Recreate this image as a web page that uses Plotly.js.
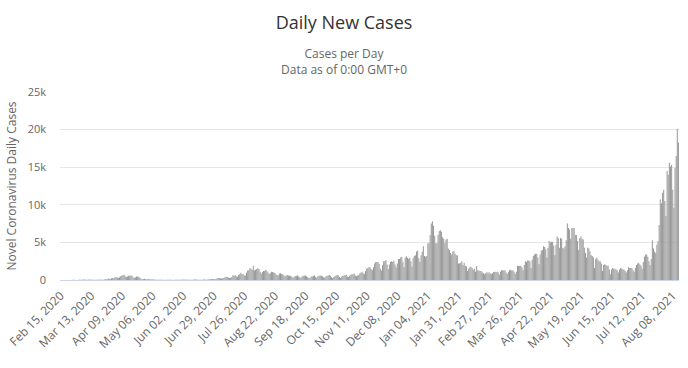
<!DOCTYPE html>
<html>
<head>
<meta charset="utf-8">
<script src="https://cdn.plot.ly/plotly-3.0.1.min.js"></script>
<style>html,body{margin:0;padding:0;background:#fff;}#chart{width:688px;height:368px;}</style>
</head>
<body>
<div id="chart"></div>
<script>
// First reported day of the series (one bar per day after it)
const firstDay = '2020-02-15';

// Daily new cases (weekly rows, Sat..Fri)
const casesFebApr2020 = [
  5,6,3,7,10,12,14,
  13,12,6,14,21,20,16,
  9,15,18,24,33,30,55,
  59,47,33,26,54,52,41,
  64,15,44,36,44,35,54,
  43,31,42,40,95,98,112,
  200,170,85,225,267,220,350,
  370,380,250,350,500,550,650,
  700,500,390,450,550,580,600,
  560,370,280,380,450,420,440,
  300,180,100,120,180,90,80
];
const casesMayJul2020 = [
  140,130,90,60,80,60,50,
  40,30,20,30,40,30,30,
  20,15,20,20,25,20,25,
  20,15,20,40,30,40,40,
  30,20,40,50,40,50,40,
  30,40,20,30,40,40,50,
  50,60,30,40,40,40,30,
  50,60,30,40,80,100,110,
  100,130,110,110,120,200,250,
  270,240,200,230,280,350,430,
  400,330,250,300,400,620,580,
  660,510,420,630,790,980,780,
  840,600,600,980,1260,1300,1580
];
const casesAugOct2020 = [
  1500,1330,1900,1250,1350,1450,1550,
  1450,1100,850,1050,1200,1200,1350,
  1200,1000,800,900,1100,1050,1000,
  950,750,650,600,850,900,800,
  750,600,500,600,650,600,580,
  560,430,300,450,500,550,600,
  480,400,250,450,550,550,600,
  500,350,300,250,450,480,550,
  600,400,250,500,550,600,550,
  500,350,300,450,550,600,650,
  550,350,250,400,500,600,650,
  600,400,300,450,550,600,650,
  700,450,400,550,700,750,750
];
const casesNovJan2021 = [
  850,600,500,600,650,900,1000,
  1100,900,800,1200,1500,1600,1700,
  1700,1450,1300,1700,2200,2400,2400,
  2400,2150,1500,1250,1950,2500,2500,
  2650,2050,1450,2050,2400,2500,2400,
  2550,2050,1650,2200,2800,2800,3000,
  3050,2400,1700,3000,3150,2950,2800,
  2950,2500,1800,2900,3200,3300,3800,
  3900,2900,2400,3300,3800,4500,3200,
  3100,3200,4900,4900,6000,7500,7800,
  7200,5900,4900,4900,6000,6500,6600,
  6400,5700,5500,4900,5400,5500,4200,
  4000,3600,3400,3800,3900,3500,3300
];
const casesFebApr2021 = [
  3300,2200,2200,2300,2500,2000,2300,
  1900,1800,1200,1500,1700,1750,1600,
  1350,1500,1100,1850,1300,1250,1200,
  1200,1000,900,750,900,1000,1000,
  1000,850,800,900,1050,1100,1050,
  1100,1000,700,1100,1300,1300,1250,
  1300,1000,800,1100,1300,1350,1250,
  1300,1100,800,1100,1900,1850,1900,
  1900,1700,1300,2000,2500,2400,2600,
  2600,2500,1600,2700,3200,3400,3500,
  3500,3000,2100,3400,3900,4000,4500,
  4400,4100,3000,4300,5200,5000,5100,
  5100,4600,3300,4700,5800,5600,4300
];
const casesMayAug2021 = [
  5600,5500,4300,4200,4500,5300,7500,
  6900,6700,5500,6900,6900,6900,6000,
  6000,5200,4000,5600,5800,5500,5400,
  4300,3600,3000,4300,4200,3800,3300,
  3200,3000,1600,2800,3000,2700,2500,
  2500,2200,1200,2000,2100,2000,1900,
  1900,1400,750,1400,1600,1500,1500,
  1400,1300,1000,1400,1600,1500,1400,
  1400,1200,1000,1300,1700,1600,1600,
  1600,1300,1100,1600,2000,2200,2300,
  2100,1900,1500,2400,3100,3400,3400,
  3100,2500,2000,2800,5300,4200,3800,
  3600,4700,5200,7300,10700,10200,11600,
  12000,10500,8500,14500,14000,15600,15100,
  15300,12000,9600,14900,16500,20100,18300
];

// Tick labels shown on the x axis
const xTickLabels = [
  'Feb 15, 2020','Mar 13, 2020','Apr 09, 2020','May 06, 2020','Jun 02, 2020',
  'Jun 29, 2020','Jul 26, 2020','Aug 22, 2020','Sep 18, 2020','Oct 15, 2020',
  'Nov 11, 2020','Dec 08, 2020','Jan 04, 2021','Jan 31, 2021','Feb 27, 2021',
  'Mar 26, 2021','Apr 22, 2021','May 19, 2021','Jun 15, 2021','Jul 12, 2021',
  'Aug 08, 2021'
];
const yTickValues = [0, 5000, 10000, 15000, 20000, 25000];
const yTickLabels = ['0', '5k', '10k', '15k', '20k', '25k'];

const dailyCases = [].concat(casesFebApr2020, casesMayJul2020, casesAugOct2020,
  casesNovJan2021, casesFebApr2021, casesMayAug2021);

const monthNames = ['Jan','Feb','Mar','Apr','May','Jun','Jul','Aug','Sep','Oct','Nov','Dec'];
function fmt(d) {
  const dd = String(d.getUTCDate()).padStart(2, '0');
  return monthNames[d.getUTCMonth()] + ' ' + dd + ', ' + d.getUTCFullYear();
}
const dates = [];
const start = new Date(firstDay + 'T00:00:00Z');
for (let i = 0; i < dailyCases.length; i++) {
  dates.push(fmt(new Date(start.getTime() + i * 86400000)));
}

const FONT = '"Open Sans", "Liberation Sans", sans-serif';

const trace = {
  type: 'bar',
  x: dates,
  y: dailyCases,
  marker: { color: '#999999', line: { width: 0 } },
  hoverinfo: 'skip'
};

const layout = {
  width: 688,
  height: 368,
  margin: { l: 60, r: 9, t: 92, b: 88 },
  paper_bgcolor: '#ffffff',
  plot_bgcolor: '#ffffff',
  showlegend: false,
  bargap: 0.1,
  font: { family: FONT, color: '#666666' },
  title: {
    text: 'Daily New Cases',
    font: { family: FONT, size: 18, color: '#333333' },
    x: 0.5, xref: 'container', xanchor: 'center',
    y: 1 - 23 / 368, yref: 'container', yanchor: 'middle'
  },
  xaxis: {
    type: 'category',
    range: [-0.5, dailyCases.length - 0.5],
    tickmode: 'array',
    tickvals: xTickLabels,
    ticktext: xTickLabels,
    tickangle: -45,
    ticks: '',
    ticklabelstandoff: 3,
    showgrid: false,
    showline: true,
    linecolor: '#ccd6eb',
    linewidth: 1,
    tickfont: { family: FONT, size: 12, color: '#666666' },
    fixedrange: true
  },
  yaxis: {
    range: [0, 25000],
    tickmode: 'array',
    tickvals: yTickValues,
    ticktext: yTickLabels,
    ticks: '',
    ticklabelstandoff: 13,
    showgrid: true,
    gridcolor: '#e6e6e6',
    gridwidth: 1,
    zeroline: false,
    showline: false,
    tickfont: { family: FONT, size: 11, color: '#666666' },
    title: {
      text: 'Novel Coronavirus Daily Cases',
      font: { family: FONT, size: 12, color: '#666666' },
      standoff: 8
    },
    fixedrange: true
  },
  annotations: [
    {
      text: 'Cases per Day<br>Data as of 0:00 GMT+0', showarrow: false,
      xref: 'paper', yref: 'paper',
      x: (344 - 60) / 619, y: (280 - 61.5) / 188,
      xanchor: 'center', yanchor: 'middle', align: 'center',
      font: { family: FONT, size: 12, color: '#666666' }
    }
  ]
};

Plotly.newPlot('chart', [trace], layout, { displayModeBar: false, staticPlot: true });
</script>
</body>
</html>
